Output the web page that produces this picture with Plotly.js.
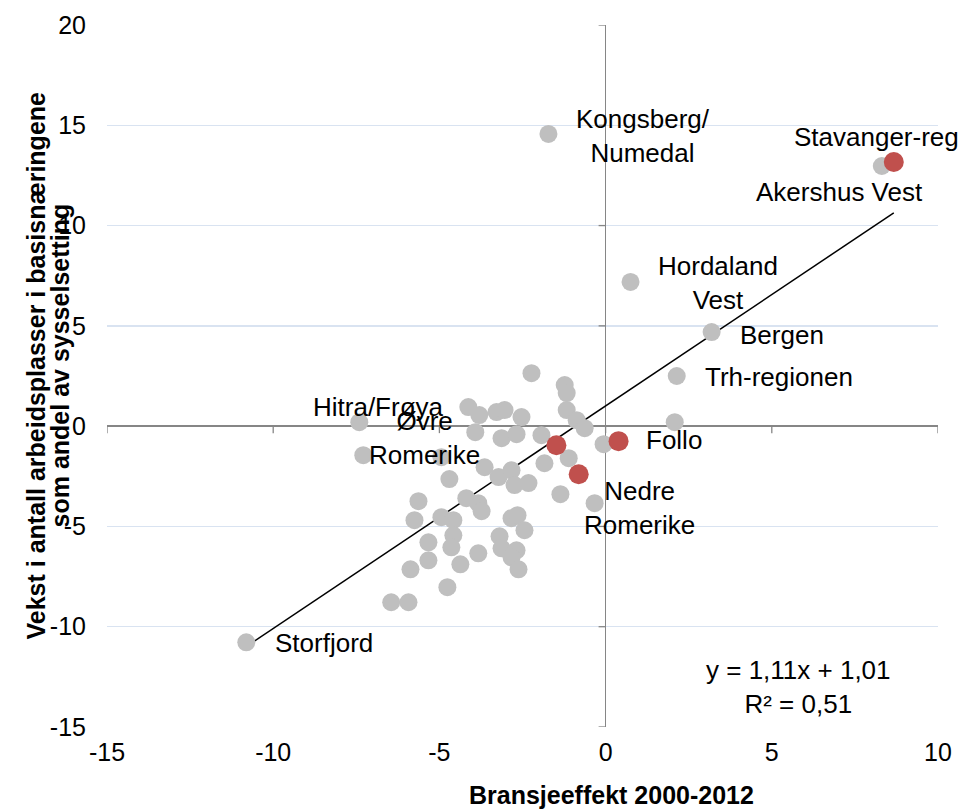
<!DOCTYPE html>
<html>
<head>
<meta charset="utf-8">
<script src="https://cdn.plot.ly/plotly-3.0.1.min.js"></script>
<style>html,body{margin:0;padding:0;background:#fff;}#chart{width:958px;height:812px;}</style>
</head>
<body>
<div id="chart"></div>
<script>
// Gray regions: bransjeeffekt (x) and vekst (y)
const grayX = [-10.81, -7.41, -7.29, -2.23, -1.23, -1.17, -1.17, -0.87, -0.63, -1.93, -1.11, -0.06, 2.08, 2.14, 3.19, 0.75, -1.72, 8.31,
  -1.36, -0.33, -4.13, -3.80, -3.92, -3.28, -3.04, -2.53, -3.13, -2.68, -4.94, -4.70, -3.64, -3.22, -2.83, -2.74, -2.32, -1.84,
  -5.63, -5.75, -4.19, -3.83, -3.73, -4.94, -4.58, -4.58, -4.64, -5.33, -5.33, -5.87, -4.37, -3.83, -3.19, -3.13, -2.83, -2.65,
  -2.44, -2.68, -2.83, -2.62, -4.76, -6.45, -5.93];
const grayY = [-10.78, 0.20, -1.45, 2.64, 2.05, 1.65, 0.80, 0.30, -0.10, -0.45, -1.60, -0.90, 0.20, 2.50, 4.69, 7.19, 14.57, 12.97,
  -3.39, -3.84, 0.95, 0.55, -0.30, 0.70, 0.80, 0.45, -0.60, -0.40, -1.55, -2.64, -2.05, -2.54, -2.20, -2.94, -2.84, -1.85,
  -3.74, -4.69, -3.59, -3.84, -4.24, -4.54, -4.69, -5.44, -6.04, -5.79, -6.69, -7.14, -6.89, -6.34, -5.49, -6.09, -4.59, -4.44,
  -5.19, -6.19, -6.54, -7.14, -8.03, -8.78, -8.78];
// Highlighted (red) regions
const redX = [8.67, 0.39, -1.48, -0.81];
const redY = [13.17, -0.75, -0.95, -2.40];
// Trend line coefficients (as shown in chart)
const trendSlope = 1.11;
const trendIntercept = 1.01;
const trendLabel = ["y = 1,11x + 1,01", "R² = 0,51"];
// Axis ticks
const xTicks = [-15, -10, -5, 0, 5, 10];
const yTicks = [-15, -10, -5, 0, 5, 10, 15, 20];
const xTitle = "Bransjeeffekt 2000-2012";
const yTitleLines = ["Vekst i antall arbeidsplasser i basisnæringene", "som andel av sysselsetting"];
// Point labels: text, anchor position (data units), horizontal anchor
const labelText = ["Kongsberg/<br>Numedal", "Stavanger-reg", "Akershus Vest", "Hordaland<br>Vest", "Bergen", "Trh-regionen", "Follo", "Nedre<br>Romerike", "Hitra/Frøya", "Øvre<br>Romerike", "Storfjord"];
const labelX = [1.11, 5.60, 4.46, 3.37, 3.98, 2.92, 1.17, 1.01, -4.79, -5.45, -10.0];
const labelY = [14.47, 14.42, 11.68, 7.14, 4.54, 2.45, -0.70, -4.09, 0.95, -0.57, -10.83];
const labelAnchor = ["center", "left", "left", "center", "left", "left", "left", "center", "right", "center", "left"];

const allX = grayX.concat(redX);
const xmin = Math.min(...allX), xmax = Math.max(...allX);

const FONT = "Liberation Sans, Arial, sans-serif";
const traces = [
  {x: [xmin, xmax], y: [trendSlope*xmin + trendIntercept, trendSlope*xmax + trendIntercept], mode: "lines",
   line: {color: "#000", width: 1.5}, hoverinfo: "skip", showlegend: false},
  {x: grayX, y: grayY, mode: "markers", type: "scatter", marker: {color: "#BFBFBF", size: 18}, showlegend: false},
  {x: redX, y: redY, mode: "markers", type: "scatter", marker: {color: "#C0504D", size: 20}, showlegend: false}
];

const annotations = labelText.map((t, i) => ({
  x: labelX[i], y: labelY[i], xref: "x", yref: "y", text: t, showarrow: false,
  xanchor: labelAnchor[i], yanchor: "middle", align: "center",
  font: {family: FONT, size: 26, color: "#000"}
}));
annotations.push({x: 5.81, y: -13.0, xref: "x", yref: "y", text: trendLabel.join("<br>"), showarrow: false,
  xanchor: "center", yanchor: "middle", align: "center", font: {family: FONT, size: 26, color: "#000"}});
// axis titles
annotations.push({x: 0.6077, y: -0.097, xref: "paper", yref: "paper", text: "<b>" + xTitle + "</b>", showarrow: false,
  xanchor: "center", yanchor: "middle", font: {family: FONT, size: 25, color: "#000"}});
annotations.push({x: -0.0854, y: 0.515, xref: "paper", yref: "paper", text: "<b>" + yTitleLines[0] + "</b>", showarrow: false,
  textangle: -90, xanchor: "center", yanchor: "middle", font: {family: FONT, size: 25, color: "#000"}});
annotations.push({x: -0.0554, y: 0.515, xref: "paper", yref: "paper", text: "<b>" + yTitleLines[1] + "</b>", showarrow: false,
  textangle: -90, xanchor: "center", yanchor: "middle", font: {family: FONT, size: 25, color: "#000"}});

const shapes = [];
xTicks.forEach(t => shapes.push({type: "line", xref: "x", yref: "y", x0: t, x1: t,
  ysizemode: "pixel", yanchor: 0, y0: 0, y1: -7, line: {color: "#868686", width: 1.3}}));
yTicks.forEach(t => shapes.push({type: "line", xref: "x", yref: "y", y0: t, y1: t,
  xsizemode: "pixel", xanchor: 0, x0: 0, x1: -7, line: {color: "#868686", width: 1.3}}));

const layout = {
  width: 958, height: 812,
  margin: {l: 107, r: 20, t: 25, b: 85},
  paper_bgcolor: "#fff", plot_bgcolor: "#fff",
  font: {family: FONT, size: 25, color: "#000"},
  xaxis: {range: [-15, 10], tickvals: xTicks, ticktext: xTicks.map(String), showgrid: false,
    zeroline: true, zerolinecolor: "#868686", zerolinewidth: 1.3, showline: false, ticks: "",
    ticklabelstandoff: 8,
    tickfont: {family: FONT, size: 25, color: "#000"}},
  yaxis: {range: [-15, 20], tickvals: yTicks, ticktext: yTicks.map(String), showgrid: true, gridcolor: "#D9E3F1", gridwidth: 1.3,
    zeroline: true, zerolinecolor: "#868686", zerolinewidth: 1.3, showline: false, ticks: "",
    ticklabelstandoff: 20,
    tickfont: {family: FONT, size: 25, color: "#000"}},
  annotations: annotations,
  shapes: shapes
};
Plotly.newPlot("chart", traces, layout, {staticPlot: true});
</script>
</body>
</html>
